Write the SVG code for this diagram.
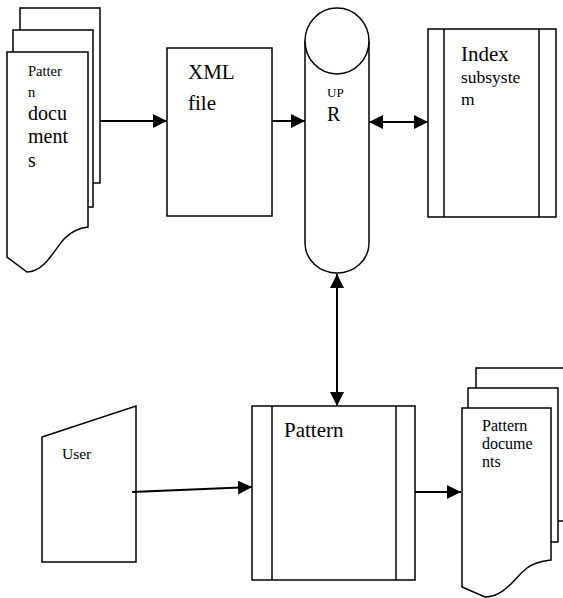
<svg xmlns="http://www.w3.org/2000/svg" width="563" height="598" viewBox="0 0 563 598">
<style>
.s{fill:#fff;stroke:#000;stroke-width:1.5}
.c{fill:none;stroke:#000;stroke-width:2}
.t{font-family:'Liberation Serif','Times New Roman','DejaVu Serif',serif;fill:#000}
</style>
<defs>
<marker id="ah" markerUnits="userSpaceOnUse" markerWidth="15" markerHeight="14" refX="14" refY="7" orient="auto-start-reverse">
<path d="M0,0 L14,7 L0,14 Z" fill="#000"/>
</marker>
</defs>
<rect width="563" height="598" fill="#fff"/>
<g id="docs1">
<rect class="s" x="20" y="8" width="80" height="175"/>
<rect class="s" x="13" y="30" width="80" height="177"/>
<path class="s" d="M7,52 L88,52 L88,227 C80,228 72,231 65,238 C55,248 45,272 27,272 L7,257 Z"/>
<text class="t" font-family="Liberation Serif, serif" x="28" y="76" font-size="14.5">Patter</text>
<text class="t" font-family="Liberation Serif, serif" x="28" y="97" font-size="14.5">n</text>
<text class="t" font-family="Liberation Serif, serif" x="28" y="120" font-size="20">docu</text>
<text class="t" font-family="Liberation Serif, serif" x="28" y="143" font-size="20">ment</text>
<text class="t" font-family="Liberation Serif, serif" x="28" y="167" font-size="20">s</text>
</g>
<g id="xml">
<rect class="s" x="167" y="48" width="105" height="168"/>
<text class="t" font-family="Liberation Serif, serif" x="188" y="79" font-size="21">XML</text>
<text class="t" font-family="Liberation Serif, serif" x="188" y="110" font-size="21">file</text>
</g>
<g id="upr">
<path class="s" d="M305,41 L305,243 A32,30 0 0 0 369,243 L369,41"/>
<ellipse class="s" cx="337" cy="41" rx="32" ry="33"/>
<text class="t" font-family="Liberation Serif, serif" x="327" y="97" font-size="13">UP</text>
<text class="t" font-family="Liberation Serif, serif" x="327" y="121" font-size="20">R</text>
</g>
<g id="index">
<rect class="s" x="428" y="29" width="128" height="188"/>
<line class="s" x1="444" y1="29" x2="444" y2="217"/>
<line class="s" x1="539" y1="29" x2="539" y2="217"/>
<text class="t" font-family="Liberation Serif, serif" x="461" y="61" font-size="21">Index</text>
<text class="t" font-family="Liberation Serif, serif" x="461" y="83" font-size="17.5">subsyste</text>
<text class="t" font-family="Liberation Serif, serif" x="461" y="105" font-size="17.5">m</text>
</g>
<g id="user">
<path class="s" d="M42,437 L136,406 L136,562 L42,562 Z"/>
<text class="t" font-family="Liberation Serif, serif" x="62" y="459" font-size="15.5">User</text>
</g>
<g id="pattern">
<rect class="s" x="252" y="406" width="163" height="174"/>
<line class="s" x1="272" y1="406" x2="272" y2="580"/>
<line class="s" x1="396" y1="406" x2="396" y2="580"/>
<text class="t" font-family="Liberation Serif, serif" x="284" y="437" font-size="21">Pattern</text>
</g>
<g id="docs2">
<rect class="s" x="476" y="368" width="100" height="153"/>
<rect class="s" x="468" y="388" width="90" height="154"/>
<path class="s" d="M462,408 L551,408 L551,560 C545,561 535,562 527,568 C515,577 505,597 485,597 L462,587 Z"/>
<text class="t" font-family="Liberation Serif, serif" x="482" y="431" font-size="16">Pattern</text>
<text class="t" font-family="Liberation Serif, serif" x="482" y="449" font-size="16">docume</text>
<text class="t" font-family="Liberation Serif, serif" x="482" y="467" font-size="16">nts</text>
</g>
<g id="connectors">
<line class="c" x1="100" y1="121" x2="167" y2="121" marker-end="url(#ah)"/>
<line class="c" x1="272" y1="121" x2="305" y2="121" marker-end="url(#ah)"/>
<line class="c" x1="369" y1="122" x2="428" y2="122" marker-start="url(#ah)" marker-end="url(#ah)"/>
<line class="c" x1="337" y1="274" x2="337" y2="406" marker-start="url(#ah)" marker-end="url(#ah)"/>
<line class="c" x1="132" y1="492" x2="252" y2="487" marker-end="url(#ah)"/>
<line class="c" x1="415" y1="492" x2="461" y2="492" marker-end="url(#ah)"/>
</g>
</svg>
